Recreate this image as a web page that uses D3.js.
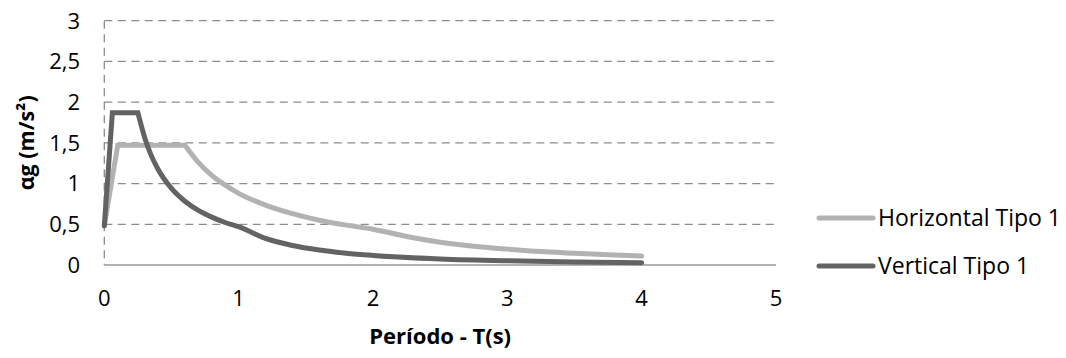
<!DOCTYPE html>
<html>
<head>
<meta charset="utf-8">
<script src="https://cdn.jsdelivr.net/npm/d3@7"></script>
<style>
  body { margin: 0; background: #fff; }
  svg { display: block; }
  text { font-family: "Open Sans", Lato, sans-serif; fill: #000; }
</style>
</head>
<body>
<svg id="chart" width="1066" height="358"></svg>
<script>
// Data
const seriesNames = ["Horizontal Tipo 1", "Vertical Tipo 1"];
const horizontalT = [0, 0.1, 0.6, 0.7, 0.8, 0.9, 1.0, 1.2, 1.4, 1.6, 1.8, 2.0, 2.25, 2.5, 2.75, 3.0, 3.25, 3.5, 3.75, 4.0];
const horizontalA = [0.48, 1.47, 1.47, 1.26, 1.10, 0.98, 0.88, 0.735, 0.63, 0.55, 0.49, 0.44, 0.35, 0.28, 0.23, 0.195, 0.165, 0.145, 0.125, 0.11];
const verticalT = [0, 0.06, 0.25, 0.3, 0.35, 0.4, 0.5, 0.6, 0.7, 0.8, 0.9, 1.0, 1.2, 1.4, 1.6, 1.8, 2.0, 2.5, 3.0, 3.5, 4.0];
const verticalA = [0.48, 1.87, 1.87, 1.567, 1.343, 1.175, 0.94, 0.783, 0.671, 0.588, 0.522, 0.47, 0.326, 0.24, 0.184, 0.145, 0.118, 0.075, 0.052, 0.038, 0.029];
const xTicks = [0, 1, 2, 3, 4, 5];
const yTicks = [0, 0.5, 1, 1.5, 2, 2.5, 3];
const xTitle = "Período - T(s)";
const yTitle = "αg (m/s²)";

const svg = d3.select("#chart");
const x = d3.scaleLinear().domain([0, 5]).range([104.3, 776]);
const y = d3.scaleLinear().domain([0, 3]).range([265, 20.7]);
const fmt = v => String(v).replace(".", ",");

// horizontal gridlines (dashed)
svg.append("g").selectAll("line").data(yTicks.filter(v => v > 0)).join("line")
  .attr("x1", x(0)).attr("x2", x(5))
  .attr("y1", d => y(d)).attr("y2", d => y(d))
  .attr("stroke", "#8c8c8c").attr("stroke-width", 1.3)
  .attr("stroke-dasharray", "8,5.5");

// left axis (dashed)
svg.append("line")
  .attr("x1", x(0)).attr("x2", x(0)).attr("y1", y(3)).attr("y2", y(0))
  .attr("stroke", "#8c8c8c").attr("stroke-width", 1.3)
  .attr("stroke-dasharray", "8,5.5");

// bottom axis (solid)
svg.append("line")
  .attr("x1", x(0)).attr("x2", x(5)).attr("y1", y(0)).attr("y2", y(0))
  .attr("stroke", "#9a9a9a").attr("stroke-width", 1.5);

// y tick labels
svg.append("g").selectAll("text").data(yTicks).join("text")
  .attr("x", 80).attr("y", d => y(d)).attr("dy", "0.36em")
  .attr("text-anchor", "end").attr("font-size", 22)
  .text(fmt);

// x tick labels
svg.append("g").selectAll("text").data(xTicks).join("text")
  .attr("x", d => x(d)).attr("y", 306)
  .attr("text-anchor", "middle").attr("font-size", 22)
  .text(fmt);

// axis titles
svg.append("text").attr("x", x(2.5)).attr("y", 344)
  .attr("text-anchor", "middle").attr("font-size", 22).attr("font-weight", "bold")
  .text(xTitle);
svg.append("text").attr("transform", `translate(34,${(y(0) + y(3)) / 2}) rotate(-90)`)
  .attr("text-anchor", "middle").attr("font-size", 21.5).attr("font-weight", "bold")
  .text(yTitle);

const colors = ["#b2b2b2", "#636363"];
const data = [
  horizontalT.map((t, i) => [t, horizontalA[i]]),
  verticalT.map((t, i) => [t, verticalA[i]])
];
const line = d3.line().x(d => x(d[0])).y(d => y(d[1])).curve(d3.curveMonotoneX);
const lineSharp = d3.line().x(d => x(d[0])).y(d => y(d[1]));

data.forEach((pts, i) => {
  // straight for the rise & plateau, smooth for the decay
  const plateauEnd = 2;
  const head = pts.slice(0, plateauEnd + 1);
  const tail = pts.slice(plateauEnd);
  svg.append("path").attr("d", lineSharp(head) + line(tail).replace(/^M/, "L"))
    .attr("fill", "none").attr("stroke", colors[i]).attr("stroke-width", 5)
    .attr("stroke-linejoin", "miter").attr("stroke-linecap", "round");
});

// legend
const legY = [218, 266];
seriesNames.forEach((name, i) => {
  svg.append("line").attr("x1", 819).attr("x2", 873).attr("y1", legY[i]).attr("y2", legY[i])
    .attr("stroke", colors[i]).attr("stroke-width", 5).attr("stroke-linecap", "round");
  svg.append("text").attr("x", 878).attr("y", legY[i]).attr("dy", "0.36em")
    .attr("font-size", 23).text(name);
});
</script>
</body>
</html>
